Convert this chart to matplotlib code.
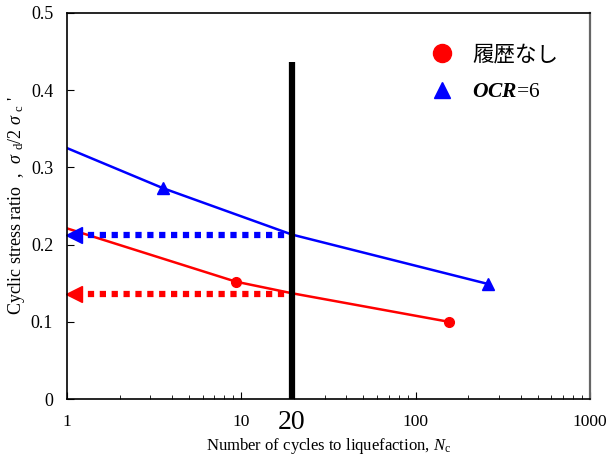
import numpy as np
import matplotlib; matplotlib.use("Agg")
import matplotlib.pyplot as plt
from matplotlib.lines import Line2D

plt.rcParams.update({
    "font.family": ["Liberation Serif", "Noto Sans CJK JP"],
    "mathtext.fontset": "custom",
    "mathtext.rm": "Liberation Serif",
    "mathtext.it": "Liberation Serif:italic",
    "mathtext.bf": "Liberation Serif:bold:italic",
})

# ---- data ----
n_fresh = [1.0, 9.3, 19.5, 155.0]          # fitted curve, no history
csr_fresh = [0.221, 0.152, 0.137, 0.100]
pts_fresh_n = [9.3, 155.0]
pts_fresh_csr = [0.152, 0.100]

n_ocr = [1.0, 3.56, 19.5, 260.0]           # fitted curve, OCR=6
csr_ocr = [0.325, 0.273, 0.213, 0.149]
pts_ocr_n = [3.56, 260.0]
pts_ocr_csr = [0.273, 0.149]

n_target = 19.5
csr_at20 = {"fresh": 0.136, "ocr": 0.212}
vline_top = 0.437

fig = plt.figure(figsize=(6.06, 4.59), dpi=100)
ax = fig.add_axes([0.1106, 0.1307, 0.863, 0.841])

ax.plot(n_fresh, csr_fresh, color="#ff0000", lw=1.8)
ax.plot(pts_fresh_n, pts_fresh_csr, "o", color="#ff0000", ms=7, ls="none")
ax.plot(n_ocr, csr_ocr, color="#0000ff", lw=1.8)
ax.plot(pts_ocr_n, pts_ocr_csr, "^", color="#0000ff", ms=8, ls="none")

# dotted arrows from N=20 back to the CSR axis
for key, col in [("ocr", "#0000ff"), ("fresh", "#ff0000")]:
    y = csr_at20[key]
    ax.plot([1.13, n_target], [y, y], color=col, lw=4.5, ls=(0, (1, 0.9)), solid_capstyle="butt")
    ax.plot([1.1], [y], marker="<", color=col, ms=11, ls="none", clip_on=False)

ax.plot([n_target, n_target], [0, vline_top], color="black", lw=4.5, solid_capstyle="butt")

ax.set_xscale("log")
ax.set_xlim(1, 1000)
ax.set_ylim(0, 0.5)
ax.set_yticks([0, 0.1, 0.2, 0.3, 0.4, 0.5])
ax.set_yticklabels(["0", "0.1", "0.2", "0.3", "0.4", "0.5"])
ax.set_xticks([1, 10, 100, 1000])
ax.set_xticklabels(["1", "10", "100", "1000"])
ax.tick_params(which="both", direction="in", labelsize=13, colors="black")
ax.tick_params(axis="x", which="major", pad=11, labelsize=12.5)
ax.tick_params(axis="y", which="major", pad=10)
ax.tick_params(which="major", length=5)
ax.tick_params(which="minor", length=3)
ax.text(n_target, -0.031, "20", ha="center", va="center", fontsize=20)

ax.spines["right"].set_color("#666666")
ax.spines["right"].set_linewidth(1.6)
for s in ["left", "bottom", "top"]:
    ax.spines[s].set_linewidth(1.2)

ax.set_xlabel(r"Number of cycles to liquefaction, $N_{\rm c}$", fontsize=12, labelpad=4)
ax.set_ylabel(r"Cyclic stress ratio  ,  $\it{\sigma}$ $_{\rm d}$/2 $\it{\sigma}$ $_{\rm c}$ '",
              fontsize=13, labelpad=3)

handles = [Line2D([], [], marker="o", color="#ff0000", ls="none", ms=13),
           Line2D([], [], marker="^", color="#0000ff", ls="none", ms=12)]
ax.legend(handles, ["履歴なし", r"$\mathbf{OCR}$=6"], loc="upper left",
          bbox_to_anchor=(0.655, 0.965), frameon=False, fontsize=15.5,
          labelspacing=0.75, handletextpad=0.8, handlelength=1.2)

fig.savefig("out.png", dpi=100)
